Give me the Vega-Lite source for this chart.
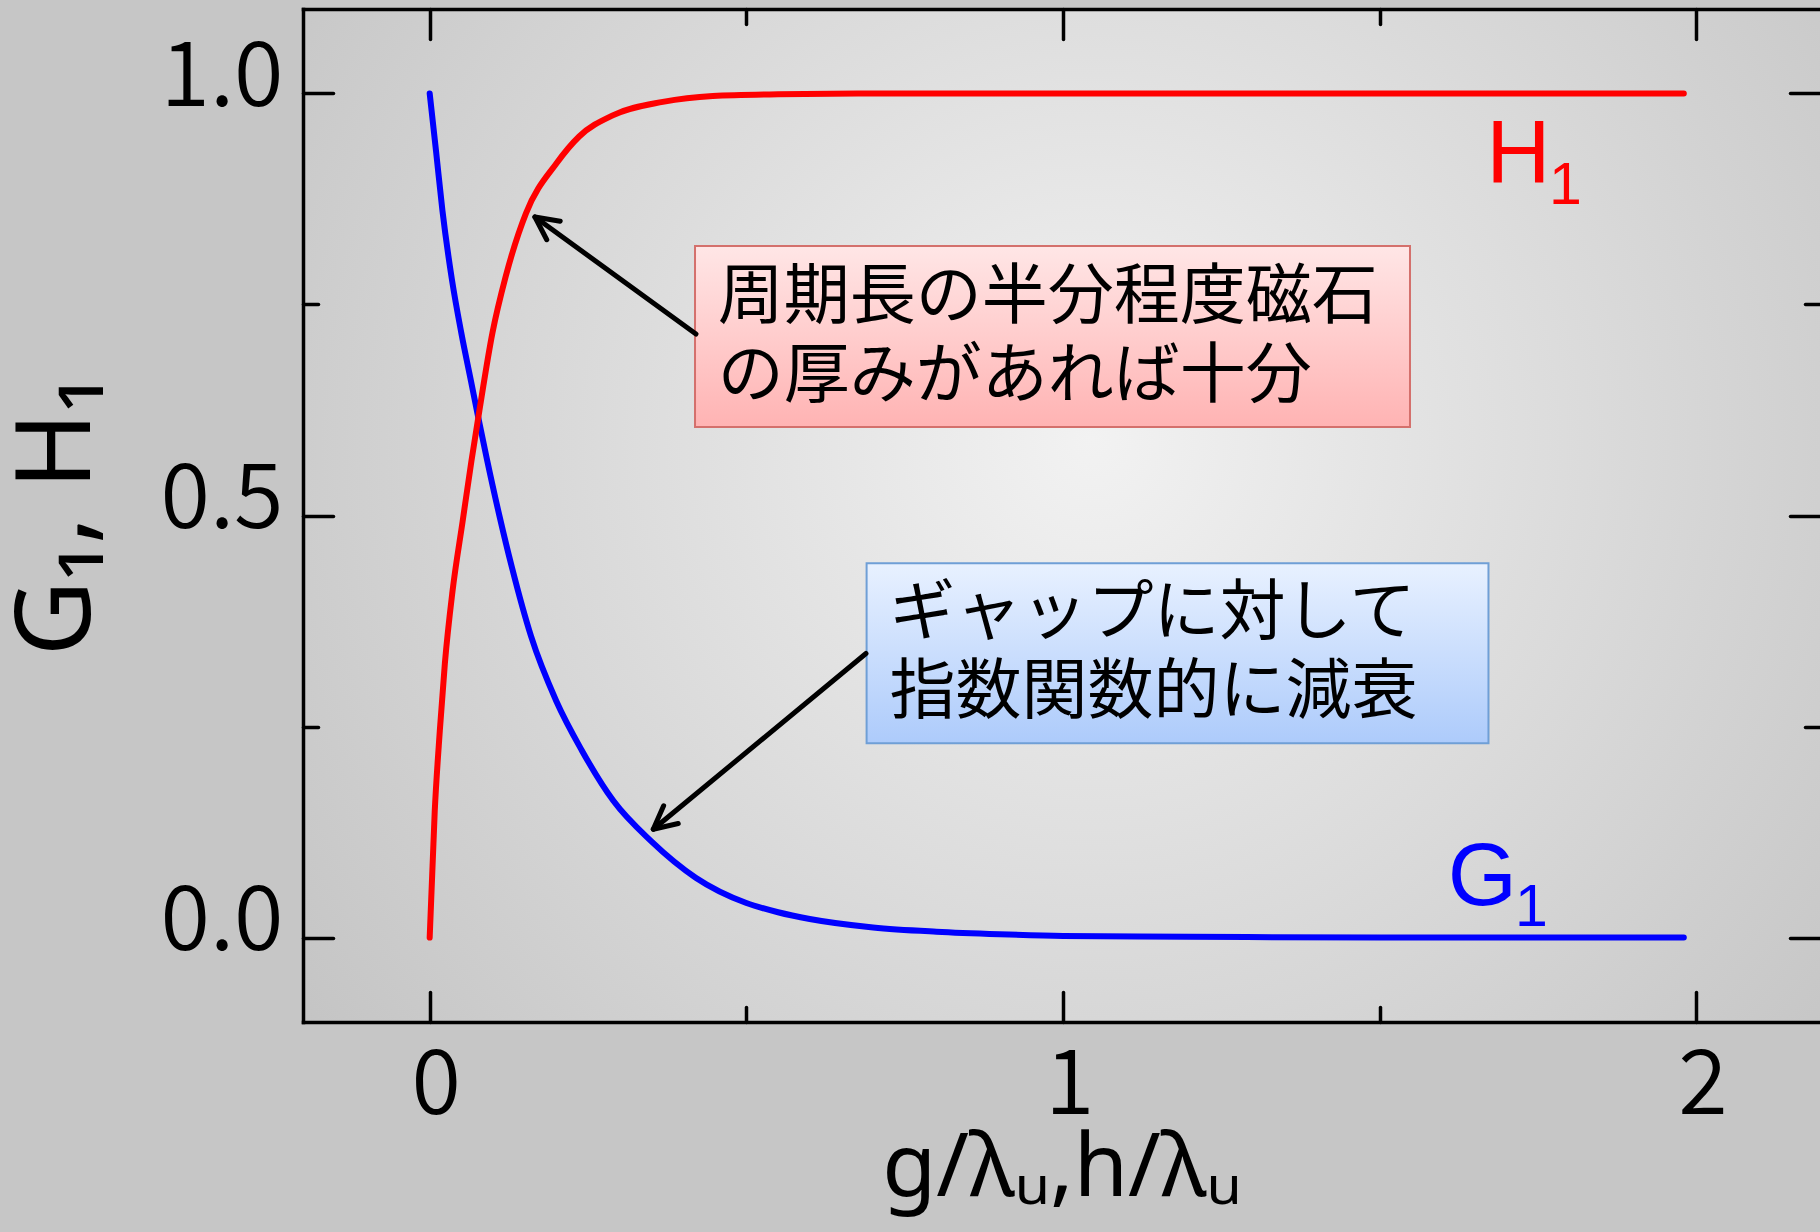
{
  "$schema": "https://vega.github.io/schema/vega-lite/v6.json",
  "width": 1517,
  "height": 1013,
  "autosize": {"type": "none"},
  "padding": {"left": 303, "top": 9, "right": 0, "bottom": 210},
  "background": "#c6c6c6",
  "config": {
    "view": {
      "stroke": null,
      "fill": {"gradient": "radial", "x1": 0.52, "y1": 0.45, "r1": 0, "x2": 0.52, "y2": 0.45, "r2": 0.75,
        "stops": [{"offset": 0, "color": "#f2f2f2"}, {"offset": 1, "color": "#bdbdbd"}]}
    },
    "axis": {
      "grid": false, "domainColor": "#000000", "domainWidth": 3.5, "domainCap": "square",
      "tickColor": "#000000", "tickWidth": 3.5, "tickCap": "round",
      "labelColor": "#000000", "titleColor": "#000000", "labelFlush": false,
      "labelFont": "Noto Sans CJK JP", "labelFontSize": 90, "labelFontWeight": 350,
      "titleFont": "Noto Sans", "titleFontWeight": "normal"
    }
  },
  "datasets": {
    "curves": [
      {"series": "G1", "x": 0, "v": 1.0}, {"series": "G1", "x": 0.01, "v": 0.932}, {"series": "G1", "x": 0.02, "v": 0.862},
      {"series": "G1", "x": 0.035, "v": 0.78}, {"series": "G1", "x": 0.05, "v": 0.716}, {"series": "G1", "x": 0.065, "v": 0.66},
      {"series": "G1", "x": 0.077, "v": 0.615}, {"series": "G1", "x": 0.09, "v": 0.568}, {"series": "G1", "x": 0.11, "v": 0.5},
      {"series": "G1", "x": 0.13, "v": 0.438}, {"series": "G1", "x": 0.16, "v": 0.357}, {"series": "G1", "x": 0.2, "v": 0.28},
      {"series": "G1", "x": 0.24, "v": 0.222}, {"series": "G1", "x": 0.29, "v": 0.162}, {"series": "G1", "x": 0.35, "v": 0.114},
      {"series": "G1", "x": 0.42, "v": 0.071}, {"series": "G1", "x": 0.5, "v": 0.041}, {"series": "G1", "x": 0.55, "v": 0.03},
      {"series": "G1", "x": 0.6, "v": 0.022}, {"series": "G1", "x": 0.7, "v": 0.012}, {"series": "G1", "x": 0.8, "v": 0.007},
      {"series": "G1", "x": 0.9, "v": 0.004}, {"series": "G1", "x": 1.0, "v": 0.002}, {"series": "G1", "x": 1.2, "v": 0.001},
      {"series": "G1", "x": 1.5, "v": 0.0}, {"series": "G1", "x": 1.98, "v": 0.0},
      {"series": "H1", "x": 0, "v": 0.0}, {"series": "H1", "x": 0.008, "v": 0.15}, {"series": "H1", "x": 0.016, "v": 0.245},
      {"series": "H1", "x": 0.024, "v": 0.325}, {"series": "H1", "x": 0.036, "v": 0.41}, {"series": "H1", "x": 0.052, "v": 0.493},
      {"series": "H1", "x": 0.066, "v": 0.565}, {"series": "H1", "x": 0.078, "v": 0.622}, {"series": "H1", "x": 0.099, "v": 0.716},
      {"series": "H1", "x": 0.12, "v": 0.783}, {"series": "H1", "x": 0.152, "v": 0.858}, {"series": "H1", "x": 0.2, "v": 0.917},
      {"series": "H1", "x": 0.236, "v": 0.949}, {"series": "H1", "x": 0.289, "v": 0.974}, {"series": "H1", "x": 0.368, "v": 0.99},
      {"series": "H1", "x": 0.447, "v": 0.997}, {"series": "H1", "x": 0.55, "v": 0.999}, {"series": "H1", "x": 0.7, "v": 1.0},
      {"series": "H1", "x": 1.98, "v": 1.0}
    ],
    "labels": [
      {"series": "H1", "part": "main", "t": "H", "x": 1.719, "y": 0.895},
      {"series": "H1", "part": "sub", "t": "1", "x": 1.793, "y": 0.869},
      {"series": "G1", "part": "main", "t": "G", "x": 1.662, "y": 0.0386},
      {"series": "G1", "part": "sub", "t": "1", "x": 1.7395, "y": 0.0137}
    ],
    "boxes": [
      {"box": "H", "x": 0.4189, "x2": 1.5477, "y": 0.8192, "y2": 0.6048, "tx": 0.4548, "ty": 0.7573, "text": "周期長の半分程度磁石\nの厚みがあれば十分"},
      {"box": "G", "x": 0.6898, "x2": 1.6716, "y": 0.4434, "y2": 0.2302, "tx": 0.7258, "ty": 0.3831, "text": "ギャップに対して\n指数関数的に減衰"}
    ],
    "arrows": [
      {"arrow": "H", "x": 0.4204, "y": 0.715, "x2": 0.1662, "y2": 0.8536},
      {"arrow": "G", "x": 0.6888, "y": 0.3365, "x2": 0.353, "y2": 0.1283}
    ]
  },
  "resolve": {"axis": {"x": "independent", "y": "independent"}},
  "layer": [
    {
      "data": {"name": "curves"},
      "mark": {"type": "line", "strokeWidth": 6, "strokeCap": "round", "strokeJoin": "round", "interpolate": "monotone"},
      "encoding": {
        "x": {"field": "x", "type": "quantitative",
          "scale": {"domain": [-0.2, 2.195], "nice": false, "zero": false},
          "axis": {"orient": "bottom", "values": [0, 1, 2], "format": ".0f", "ticks": false, "domain": false,
            "labelPadding": 20, "labelOffset": 6, "title": "g/λᵤ,h/λᵤ", "titleFontSize": 88, "titlePadding": -6}},
        "y": {"field": "v", "type": "quantitative",
          "scale": {"domain": [-0.1, 1.1], "nice": false, "zero": false},
          "axis": {"orient": "left", "values": [0, 0.5, 1], "format": ".1f", "ticks": false, "domain": false,
            "labelPadding": 20, "labelOffset": -15, "title": "G₁, H₁", "titleFontSize": 104, "titlePadding": 48}},
        "color": {"field": "series", "type": "nominal",
          "scale": {"domain": ["G1", "H1"], "range": ["#0000ff", "#ff0000"]}, "legend": null}
      }
    },
    {
      "data": {"name": "boxes"},
      "transform": [{"filter": "datum.box === 'H'"}],
      "mark": {"type": "rect", "stroke": "#d4706c", "strokeWidth": 2,
        "fill": {"gradient": "linear", "x1": 0, "y1": 0, "x2": 0, "y2": 1,
          "stops": [{"offset": 0, "color": "#ffe6e6"}, {"offset": 1, "color": "#ffb3b3"}]}},
      "encoding": {
        "x": {"field": "x", "type": "quantitative",
          "axis": {"orient": "bottom", "values": [0, 1, 2], "labels": false, "tickSize": -30, "domain": true, "title": null}},
        "x2": {"field": "x2"},
        "y": {"field": "y", "type": "quantitative",
          "axis": {"orient": "left", "values": [0, 0.5, 1], "labels": false, "tickSize": -30, "domain": true, "title": null}},
        "y2": {"field": "y2"}
      }
    },
    {
      "data": {"name": "boxes"},
      "transform": [{"filter": "datum.box === 'G'"}],
      "mark": {"type": "rect", "stroke": "#6f9fd6", "strokeWidth": 2,
        "fill": {"gradient": "linear", "x1": 0, "y1": 0, "x2": 0, "y2": 1,
          "stops": [{"offset": 0, "color": "#e8f1ff"}, {"offset": 1, "color": "#adcbfb"}]}},
      "encoding": {
        "x": {"field": "x", "type": "quantitative",
          "axis": {"orient": "top", "values": [0, 1, 2], "labels": false, "tickSize": -30, "domain": true, "title": null}},
        "x2": {"field": "x2"},
        "y": {"field": "y", "type": "quantitative",
          "axis": {"orient": "right", "values": [0, 0.5, 1], "labels": false, "tickSize": -30, "domain": false, "title": null}},
        "y2": {"field": "y2"}
      }
    },
    {
      "data": {"name": "boxes"},
      "mark": {"type": "text", "align": "left", "baseline": "middle", "lineBreak": "\n", "lineHeight": 79,
        "font": "Noto Sans CJK JP", "fontSize": 66, "color": "#000000"},
      "encoding": {
        "x": {"field": "tx", "type": "quantitative",
          "axis": {"orient": "bottom", "values": [0.5, 1.5], "labels": false, "tickSize": -15, "domain": false, "title": null}},
        "y": {"field": "ty", "type": "quantitative",
          "axis": {"orient": "left", "values": [0.25, 0.75], "labels": false, "tickSize": -15, "domain": false, "title": null}},
        "text": {"field": "text"}
      }
    },
    {
      "data": {"name": "arrows"},
      "mark": {"type": "rule", "strokeWidth": 5, "strokeCap": "round", "color": "#000000"},
      "encoding": {
        "x": {"field": "x", "type": "quantitative",
          "axis": {"orient": "top", "values": [0.5, 1.5], "labels": false, "tickSize": -15, "domain": false, "title": null}},
        "y": {"field": "y", "type": "quantitative",
          "axis": {"orient": "right", "values": [0.25, 0.75], "labels": false, "tickSize": -15, "domain": false, "title": null}},
        "x2": {"field": "x2"},
        "y2": {"field": "y2"}
      }
    },
    {
      "data": {"name": "arrows"},
      "mark": {"type": "point", "shape": "M -1 -0.5 L 0 0 L -1 0.5", "filled": false, "stroke": "#000000",
        "strokeWidth": 5, "strokeCap": "round", "strokeJoin": "round", "size": 2100, "opacity": 1},
      "encoding": {
        "x": {"field": "x2", "type": "quantitative", "axis": null},
        "y": {"field": "y2", "type": "quantitative", "axis": null},
        "angle": {"condition": {"test": "datum.arrow === 'H'", "value": 216}, "value": 140.4}
      }
    },
    {
      "data": {"name": "labels"},
      "mark": {"type": "text", "font": "Liberation Sans", "align": "center", "baseline": "alphabetic"},
      "encoding": {
        "x": {"field": "x", "type": "quantitative", "axis": null},
        "y": {"field": "y", "type": "quantitative", "axis": null},
        "text": {"field": "t"},
        "color": {"field": "series", "type": "nominal", "legend": null},
        "size": {"field": "part", "type": "ordinal", "scale": {"domain": ["main", "sub"], "range": [89, 59]}, "legend": null}
      }
    }
  ]
}
